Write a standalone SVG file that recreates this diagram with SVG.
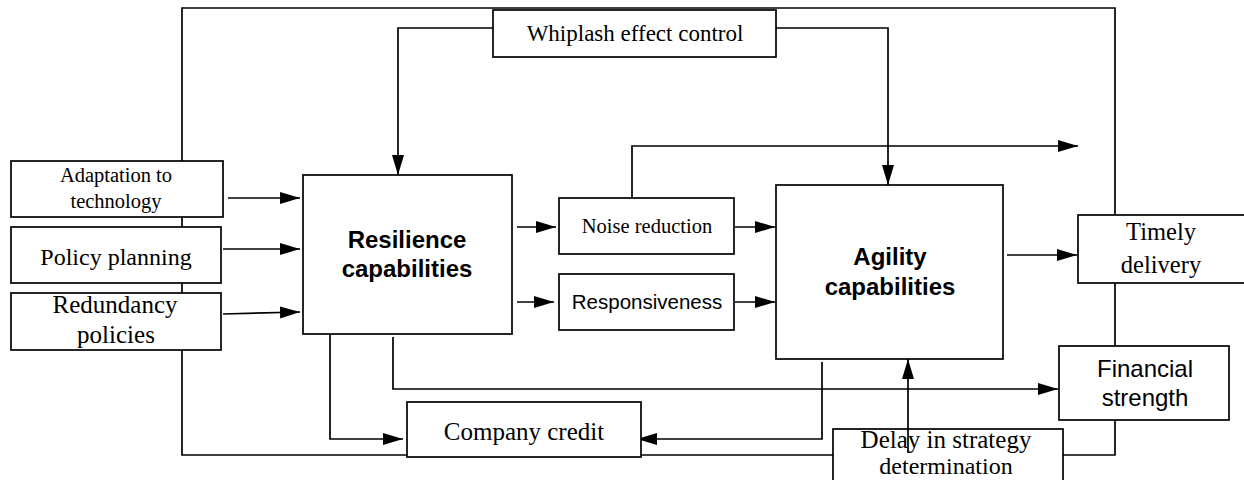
<svg xmlns="http://www.w3.org/2000/svg" width="1244" height="480" viewBox="0 0 1244 480">
  <defs>
    <marker id="arrow" markerUnits="userSpaceOnUse" markerWidth="20" markerHeight="12" refX="20" refY="6" orient="auto">
      <path d="M0,0 L20,6 L0,12 Z" fill="#000"/>
    </marker>
    <style>
      .line { fill: none; stroke: #000; stroke-width: 1.7; }
      .arr { fill: none; stroke: #000; stroke-width: 1.7; marker-end: url(#arrow); }
      .box { fill: #fff; stroke: #000; stroke-width: 1.7; }
      .serif { font-family: "Liberation Serif", "Times New Roman", serif; fill: #000; text-anchor: middle; }
      .sans { font-family: "Liberation Sans", Arial, sans-serif; fill: #000; text-anchor: middle; }
      .bold { font-family: "Liberation Sans", Arial, sans-serif; font-weight: bold; fill: #000; text-anchor: middle; font-size: 24px; }
    </style>
  </defs>
  <rect width="1244" height="480" fill="#fff"/>

  <!-- connectors -->
  <g id="connectors">
    <!-- outer feedback loop -->
    <path class="line" d="M182,8 H1115 V455 H182 Z"/>
    <!-- whiplash effect control to both capability blocks -->
    <path class="arr" d="M493,28 H398 V175"/>
    <path class="arr" d="M776,28 H888 V185"/>
    <!-- inputs into resilience -->
    <path class="arr" d="M228,198 H300"/>
    <path class="arr" d="M223,249 H300"/>
    <path class="arr" d="M223,314 L300,312"/>
    <!-- resilience to noise reduction / responsiveness -->
    <path class="arr" d="M517,227 H556"/>
    <path class="arr" d="M517,302 H554"/>
    <!-- into agility -->
    <path class="arr" d="M735,227 H775"/>
    <path class="arr" d="M735,302 H775"/>
    <!-- noise reduction bypass -->
    <path class="arr" d="M632,198 V146 H1078"/>
    <!-- agility to timely delivery -->
    <path class="arr" d="M1007,255 H1077"/>
    <!-- resilience to company credit -->
    <path class="arr" d="M330,334 V439 H403"/>
    <!-- resilience to financial strength -->
    <path class="arr" d="M393,337 V389 H1058"/>
    <!-- agility to company credit -->
    <path class="arr" d="M822,362 V439 H637"/>
  </g>

  <g id="whiplash">
    <rect class="box" x="493" y="10" width="283" height="47"/>
    <text class="serif" x="635" y="41" font-size="23">Whiplash effect control</text>
  </g>

  <g id="adaptation">
    <rect class="box" x="11" y="161" width="212" height="56"/>
    <text class="serif" x="116" y="182" font-size="20.5">Adaptation to</text>
    <text class="serif" x="116" y="208" font-size="20.5">technology</text>
  </g>

  <g id="policy-planning">
    <rect class="box" x="11" y="227" width="210" height="56"/>
    <text class="serif" x="116" y="265" font-size="24">Policy planning</text>
  </g>

  <g id="redundancy">
    <rect class="box" x="11" y="293" width="210" height="57"/>
    <text class="serif" x="115" y="313" font-size="25">Redundancy</text>
    <text class="serif" x="116" y="343" font-size="25">policies</text>
  </g>

  <g id="resilience">
    <rect class="box" x="303" y="175" width="209" height="159"/>
    <text class="bold" x="407" y="248">Resilience</text>
    <text class="bold" x="407" y="277">capabilities</text>
  </g>

  <g id="noise-reduction">
    <rect class="box" x="559" y="198" width="175" height="56"/>
    <text class="serif" x="647" y="233" font-size="20.5">Noise reduction</text>
  </g>

  <g id="responsiveness">
    <rect class="box" x="559" y="274" width="175" height="56"/>
    <text class="sans" x="647" y="309" font-size="20.5">Responsiveness</text>
  </g>

  <g id="agility">
    <rect class="box" x="776" y="185" width="227" height="174"/>
    <text class="bold" x="890" y="265">Agility</text>
    <text class="bold" x="890" y="295">capabilities</text>
  </g>

  <g id="timely-delivery">
    <rect class="box" x="1078" y="215" width="170" height="68"/>
    <text class="serif" x="1161" y="240" font-size="24.5">Timely</text>
    <text class="serif" x="1161" y="273" font-size="24.5">delivery</text>
  </g>

  <g id="financial-strength">
    <rect class="box" x="1059" y="346" width="170" height="74"/>
    <text class="sans" x="1145" y="377" font-size="24">Financial</text>
    <text class="sans" x="1145" y="406" font-size="24">strength</text>
  </g>

  <g id="company-credit">
    <rect class="box" x="407" y="402" width="234" height="55"/>
    <text class="serif" x="524" y="440" font-size="25">Company credit</text>
  </g>

  <g id="delay">
    <rect class="box" x="833" y="429" width="230" height="60"/>
    <text class="serif" x="946" y="448" font-size="25">Delay in strategy</text>
    <text class="serif" x="946" y="474" font-size="24">determination</text>
    <!-- delay feeds back into agility -->
    <path class="arr" d="M908,453 V359"/>
  </g>
</svg>
